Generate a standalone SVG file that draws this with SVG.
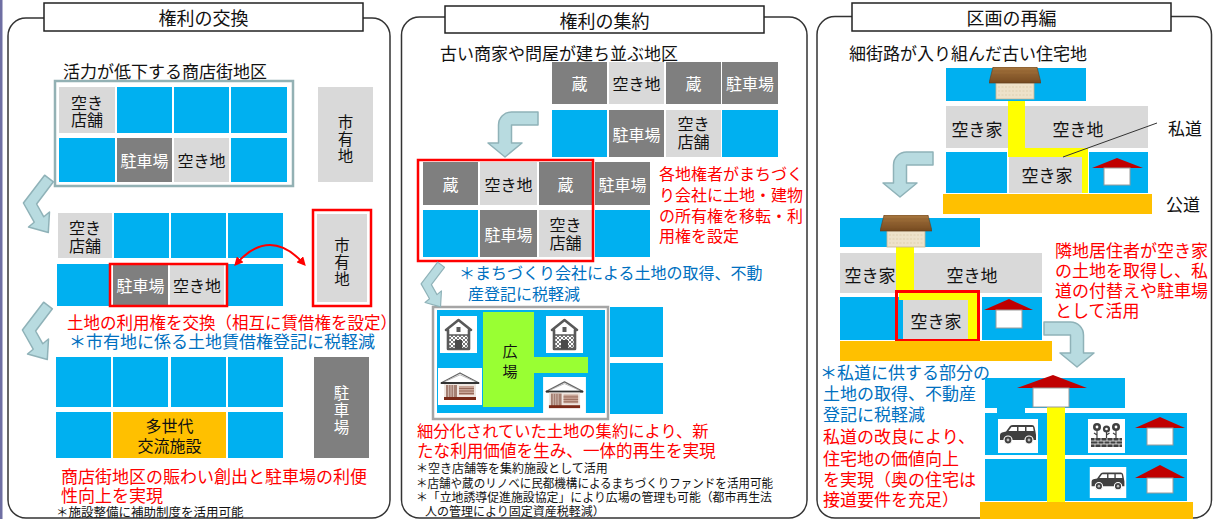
<svg xmlns="http://www.w3.org/2000/svg" width="1213" height="519" viewBox="0 0 1213 519">
<style>
text{font-family:"Noto Sans CJK JP","Noto Sans",sans-serif;dominant-baseline:central;fill:#111}
.title{font-size:18px;text-anchor:middle}
.hd{font-size:17px}
.c{font-size:16px;text-anchor:middle}
.v{font-size:15.5px;text-anchor:middle}
.c3{font-size:17px;text-anchor:middle}
.w{fill:#fff}
.red{fill:#ff0000}
.blue{fill:#0070c0}
.note{font-size:12px}
.blu{fill:#00b0f0}
.lg{fill:#d9d9d9}
.dg{fill:#7f7f7f}
.org{fill:#ffc000}
.yel{fill:#ffff00}
.frame{fill:none;stroke:#333;stroke-width:1.5}
.tbox{fill:#fff;stroke:#222;stroke-width:1.5}
.redbox{fill:none;stroke:#ff0000;stroke-width:2.5}
.arr{fill:#b8dbe0;stroke:#8fb2b8;stroke-width:1.5;stroke-linejoin:round}
.roof{fill:#c00000}
.hbox{fill:#fff;stroke:#9a9a9a;stroke-width:1}
</style>
<defs>
  <pattern id="lat" width="4" height="4" patternUnits="userSpaceOnUse">
    <rect width="4" height="4" fill="#fff"/>
    <path d="M0,0L4,4M4,0L0,4" stroke="#6a6a6a" stroke-width="0.9"/>
  </pattern>
  <linearGradient id="wood" x1="0" y1="0" x2="0" y2="1">
    <stop offset="0" stop-color="#a8773f"/>
    <stop offset="1" stop-color="#74491f"/>
  </linearGradient>
  <marker id="rh" viewBox="0 0 10 10" refX="7" refY="5" markerWidth="4.5" markerHeight="4.5" orient="auto-start-reverse">
    <path d="M0,0L10,5L0,10Z" fill="#ff0000"/>
  </marker>
  <!-- curved chevron arrow -->
  <path id="chevP" class="arr" d="M22.6,0.2L1.4,28L12.2,47.2L6.5,52L26.3,57.5L27.5,37L21.8,41.8L14.6,29L31.4,6.8Z"/>
  <!-- bent arrow, tip at origin pointing down -->
  <path id="bentP" class="arr" d="M33,-45L6.5,-45A13,13 0 0 0 -6.5,-32L-6.5,-14L-17,-14L0,0L17,-14L6.5,-14L6.5,-32L33,-32Z"/>
  <!-- storehouse icon -->
  <symbol id="kura" viewBox="0 0 37 37">
    <rect width="37" height="37" fill="#fff"/>
    <rect x="9" y="19" width="19" height="14" fill="url(#lat)"/>
    <path d="M18.5,4L31,14L29,14L29,33L8,33L8,14L6,14Z" fill="none" stroke="#595959" stroke-width="2.6" stroke-linejoin="round"/>
    <rect x="16.5" y="11" width="4" height="5" fill="#595959"/>
    <line x1="8" y1="19" x2="29" y2="19" stroke="#595959" stroke-width="1.5"/>
    <rect x="15" y="24" width="7" height="9" fill="#4a4a4a"/>
  </symbol>
  <!-- town house icon -->
  <symbol id="machiya" viewBox="0 0 44 37">
    <rect width="44" height="37" fill="#fff"/>
    <path d="M3,15L22,5L41,15Z" fill="#fff" stroke="#666" stroke-width="1.4" stroke-linejoin="round"/>
    <path d="M7,13.5L22,6.8L37,13.5" fill="none" stroke="#aaa" stroke-width="0.8"/>
    <rect x="3" y="14" width="38" height="2" fill="#333"/>
    <rect x="6" y="16" width="32" height="15" fill="#efe6e0"/>
    <rect x="8" y="17" width="11" height="13" fill="#a47f72"/>
    <path d="M10.5,17V30M13,17V30M15.5,17V30" stroke="#dcc7be" stroke-width="0.8"/>
    <rect x="21" y="18" width="15" height="9" fill="#c9a597"/>
    <path d="M21,20.5H36M21,23H36M21,25.5H36" stroke="#8a5a4a" stroke-width="0.8"/>
    <rect x="6" y="29" width="32" height="3" fill="#7a2a18"/>
  </symbol>
  <!-- old wooden house icon -->
  <symbol id="oldhouse" viewBox="0 0 52 33">
    <rect x="7" y="16" width="38" height="16" fill="#eee2ca" stroke="#c4b492" stroke-width="0.8"/>
    <path d="M9,20H43M9,24H43M9,28H43" stroke="#d8c8a8" stroke-width="0.7" stroke-dasharray="2 1.5"/>
    <path d="M4,0L48,0L52,16L0,16Z" fill="url(#wood)" stroke="#5e3d1e" stroke-width="0.6"/>
    <path d="M3,4H49M2,8H50M1,12H51" stroke="#8a5d30" stroke-width="0.6" opacity="0.7"/>
  </symbol>
  <!-- car icon -->
  <symbol id="car" viewBox="0 0 40 34">
    <rect width="40" height="34" fill="#fff"/>
    <path d="M2,16Q2,14 4,13.5L8,12.5L12,7Q13,6 15,6L34,6Q36,6 36.5,8L37.5,13L38,16L38,21L2,21Z" fill="#404040"/>
    <path d="M13.5,8L19,8L19,12L10.5,12Z M20.5,8h6.5v4h-6.5z M28.5,8h6.5l0.7,4h-7.2z" fill="#fff"/>
    <circle cx="10" cy="21" r="4" fill="#404040" stroke="#fff" stroke-width="1.2"/>
    <circle cx="31" cy="21" r="4" fill="#404040" stroke="#fff" stroke-width="1.2"/>
    <circle cx="10" cy="21" r="1.4" fill="#bbb"/>
    <circle cx="31" cy="21" r="1.4" fill="#bbb"/>
  </symbol>
  <!-- flower bed icon -->
  <symbol id="flowers" viewBox="0 0 37 34">
    <rect width="37" height="34" fill="#fff"/>
    <rect x="3" y="19" width="31" height="9" fill="#404040"/>
    <path d="M3,22H34M3,25H34M7,19V22M13,19V22M19,19V22M25,19V22M31,19V22M10,22V25M16,22V25M22,22V25M28,22V25M7,25V28M13,25V28M19,25V28M25,25V28M31,25V28" stroke="#fff" stroke-width="0.7"/>
    <path d="M9,10V19M18.5,12V19M28,10V19M9,16L6,14M18.5,16L21.5,14M28,16L25,14" stroke="#404040" stroke-width="1.2"/>
    <g fill="#404040">
      <circle cx="9" cy="8" r="4"/><circle cx="18.5" cy="10" r="3.6"/><circle cx="28" cy="8" r="4"/>
    </g>
    <g fill="#fff">
      <circle cx="9" cy="8" r="1.4"/><circle cx="18.5" cy="10" r="1.3"/><circle cx="28" cy="8" r="1.4"/>
    </g>
  </symbol>
</defs>

<rect x="0" y="0" width="1213" height="519" fill="#fff"/>
<rect x="0" y="0" width="2.5" height="519" fill="#6f6fa3"/>

<!-- panel frames and titles -->
<g id="panel-exchange-frame">
  <rect class="frame" x="8" y="18" width="382" height="500" rx="18"/>
  <rect class="tbox" x="44" y="3" width="319" height="28"/>
  <text class="title" x="203.5" y="17">権利の交換</text>
</g>
<g id="panel-consolidation-frame">
  <rect class="frame" x="401.5" y="17" width="405.5" height="501" rx="18"/>
  <rect class="tbox" x="445" y="6" width="319" height="27"/>
  <text class="title" x="604.5" y="19.5">権利の集約</text>
</g>
<g id="panel-replot-frame">
  <rect class="frame" x="817" y="16.5" width="394.5" height="501.5" rx="18"/>
  <rect class="tbox" x="852" y="3" width="319" height="28"/>
  <text class="title" x="1011.5" y="17">区画の再編</text>
</g>

<!-- ===== Panel 1: exchange of rights ===== -->
<g id="p1-before">
  <text class="hd" x="63" y="70">活力が低下する商店街地区</text>
  <rect x="55" y="81" width="238" height="105" fill="#fff" stroke="#93b1b4" stroke-width="2.5"/>
  <rect class="lg" x="59" y="87" width="56" height="46"/>
  <rect class="blu" x="117" y="87" width="55" height="46"/>
  <rect class="blu" x="174" y="87" width="55" height="46"/>
  <rect class="blu" x="231" y="87" width="56" height="46"/>
  <rect class="blu" x="59" y="138" width="56" height="44"/>
  <rect class="dg" x="117" y="138" width="55" height="44"/>
  <rect class="lg" x="174" y="138" width="55" height="44"/>
  <rect class="blu" x="231" y="138" width="56" height="44"/>
  <text class="c"><tspan x="87" y="102">空き</tspan><tspan x="87" y="119">店舗</tspan></text>
  <text class="c w" x="144.5" y="160">駐車場</text>
  <text class="c" x="201.5" y="160">空き地</text>
</g>
<g id="p1-city-land">
  <rect class="lg" x="318" y="87" width="55" height="95"/>
  <text class="v"><tspan x="345.5" y="121">市</tspan><tspan x="345.5" y="138">有</tspan><tspan x="345.5" y="155">地</tspan></text>
</g>
<g id="p1-exchange">
  <rect class="lg" x="58" y="213" width="54" height="45"/>
  <rect class="blu" x="114" y="213" width="55" height="45"/>
  <rect class="blu" x="171" y="213" width="55" height="45"/>
  <rect class="blu" x="228" y="213" width="55" height="45"/>
  <rect class="blu" x="57" y="264" width="54" height="42"/>
  <rect class="dg" x="113" y="264" width="55" height="42"/>
  <rect class="lg" x="170" y="264" width="54" height="42"/>
  <rect class="blu" x="228" y="264" width="55" height="42"/>
  <rect class="redbox" x="110" y="264" width="117" height="42"/>
  <text class="c"><tspan x="85" y="227">空き</tspan><tspan x="85" y="245">店舗</tspan></text>
  <text class="c w" x="140.5" y="285">駐車場</text>
  <text class="c" x="197" y="285">空き地</text>
  <rect class="lg" x="317" y="214" width="50" height="88"/>
  <rect class="redbox" x="313" y="210" width="58" height="96"/>
  <text class="v"><tspan x="342" y="244">市</tspan><tspan x="342" y="261">有</tspan><tspan x="342" y="278">地</tspan></text>
  <text style="font-size:16.5px"><tspan class="red" x="67" y="321.5">土地の利用権を交換（相互に賃借権を設定）</tspan><tspan class="blue" x="69" y="340" style="font-size:17px">＊市有地に係る土地賃借権登記に税軽減</tspan></text>
</g>
<g id="p1-after">
  <rect class="blu" x="56" y="357" width="55" height="50"/>
  <rect class="blu" x="113" y="357" width="55" height="50"/>
  <rect class="blu" x="171" y="357" width="55" height="50"/>
  <rect class="blu" x="228" y="357" width="55" height="50"/>
  <rect class="blu" x="56" y="412" width="55" height="46"/>
  <rect class="org" x="113" y="412" width="113" height="46"/>
  <rect class="blu" x="228" y="412" width="55" height="46"/>
  <text class="c"><tspan x="169.5" y="425">多世代</tspan><tspan x="169.5" y="445">交流施設</tspan></text>
  <rect class="dg" x="314" y="357" width="55" height="101"/>
  <text class="v w"><tspan x="341.5" y="392">駐</tspan><tspan x="341.5" y="409">車</tspan><tspan x="341.5" y="426">場</tspan></text>
  <text class="red" style="font-size:17px"><tspan x="61" y="475">商店街地区の賑わい創出と駐車場の利便</tspan><tspan x="61" y="494">性向上を実現</tspan><tspan x="56" y="511" style="font-size:12.5px;fill:#111">＊施設整備に補助制度を活用可能</tspan></text>
</g>

<!-- ===== Panel 2: consolidation of rights ===== -->
<g id="p2-before">
  <text class="hd" x="440" y="52.5">古い商家や問屋が建ち並ぶ地区</text>
  <rect class="dg" x="552" y="62" width="55" height="42"/>
  <rect class="lg" x="609" y="62" width="55" height="42"/>
  <rect class="dg" x="666" y="62" width="55" height="42"/>
  <rect class="dg" x="722" y="62" width="56" height="42"/>
  <rect class="blu" x="552" y="110" width="55" height="47"/>
  <rect class="dg" x="609" y="110" width="55" height="47"/>
  <rect class="lg" x="666" y="110" width="55" height="47"/>
  <rect class="blu" x="722" y="110" width="56" height="47"/>
  <text class="c w" x="579.5" y="83">蔵</text>
  <text class="c" x="636.5" y="83">空き地</text>
  <text class="c w" x="693.5" y="83">蔵</text>
  <text class="c w" x="750" y="83">駐車場</text>
  <text class="c w" x="636.5" y="133.5">駐車場</text>
  <text class="c"><tspan x="693.5" y="123">空き</tspan><tspan x="693.5" y="141">店舗</tspan></text>
</g>
<g id="p2-transfer">
  <rect class="dg" x="423" y="162" width="55" height="43"/>
  <rect class="lg" x="480" y="162" width="57" height="43"/>
  <rect class="dg" x="539" y="162" width="53" height="43"/>
  <rect class="dg" x="595" y="162" width="55" height="43"/>
  <rect class="blu" x="423" y="210" width="55" height="47"/>
  <rect class="dg" x="480" y="210" width="57" height="47"/>
  <rect class="lg" x="539" y="210" width="53" height="47"/>
  <rect class="blu" x="595" y="210" width="55" height="47"/>
  <rect class="redbox" x="418" y="160" width="175" height="101"/>
  <text class="c w" x="450.5" y="184">蔵</text>
  <text class="c" x="508.5" y="184">空き地</text>
  <text class="c w" x="565.5" y="184">蔵</text>
  <text class="c w" x="622.5" y="184">駐車場</text>
  <text class="c w" x="508.5" y="233.5">駐車場</text>
  <text class="c"><tspan x="565.5" y="224">空き</tspan><tspan x="565.5" y="242">店舗</tspan></text>
  <text class="red" style="font-size:16px"><tspan x="659" y="172.5">各地権者がまちづく</tspan><tspan x="659" y="194">り会社に土地・建物</tspan><tspan x="659" y="215">の所有権を移転・利</tspan><tspan x="659" y="234.5">用権を設定</tspan></text>
  <text class="blue" style="font-size:16px"><tspan x="459" y="271.5">＊まちづくり会社による土地の取得、不動</tspan><tspan x="468" y="292.5">産登記に税軽減</tspan></text>
</g>
<g id="p2-after">
  <rect x="433" y="307" width="175" height="112" fill="#fff" stroke="#a5a5a5" stroke-width="2.5"/>
  <rect class="blu" x="437" y="310" width="168" height="103"/>
  <path d="M483,312H534V357H588V373H534V407H483Z" fill="#99ff33"/>
  <text style="font-size:15px;text-anchor:middle"><tspan x="510" y="350">広</tspan><tspan x="510" y="370">場</tspan></text>
  <use href="#kura" x="440" y="316" width="37" height="37"/>
  <use href="#kura" x="546" y="316" width="37" height="37"/>
  <use href="#machiya" x="438" y="368" width="44" height="37"/>
  <use href="#machiya" x="543" y="377" width="43" height="36"/>
  <rect class="blu" x="610" y="307" width="53" height="50"/>
  <rect class="blu" x="610" y="363" width="53" height="51"/>
  <text class="red"><tspan x="417" y="430" style="font-size:16.3px">細分化されていた土地の集約により、新</tspan><tspan x="417" y="450" style="font-size:16.6px">たな利用価値を生み、一体的再生を実現</tspan></text>
  <text class="note"><tspan x="416" y="467">＊空き店舗等を集約施設として活用</tspan><tspan x="416" y="482" textLength="357" lengthAdjust="spacingAndGlyphs">＊店舗や蔵のリノベに民都機構によるまちづくりファンドを活用可能</tspan><tspan x="416" y="496" textLength="356" lengthAdjust="spacingAndGlyphs">＊「立地誘導促進施設協定」により広場の管理も可能（都市再生法</tspan><tspan x="425" y="510">人の管理により固定資産税軽減）</tspan></text>
</g>

<!-- ===== Panel 3: replotting ===== -->
<g id="p3-before">
  <text class="hd" x="849" y="52.5">細街路が入り組んだ古い住宅地</text>
  <rect class="blu" x="946" y="68" width="140" height="33"/>
  <rect class="lg" x="946" y="106" width="202" height="42"/>
  <rect class="blu" x="946" y="152" width="61" height="41"/>
  <rect class="lg" x="1009" y="157" width="73" height="36"/>
  <rect class="blu" x="1089" y="152" width="59" height="41"/>
  <path class="yel" d="M1008,101H1025V148H1088V193H1082V157H1008Z"/>
  <rect class="org" x="943" y="194" width="209" height="20"/>
  <use href="#oldhouse" x="989" y="67" width="52" height="33"/>
  <polygon class="roof" points="1092,168 1117,158 1143,168"/>
  <rect class="hbox" x="1104" y="168" width="26" height="17"/>
  <line x1="1157" y1="123" x2="1063" y2="157" stroke="#333" stroke-width="1"/>
  <text class="c3" x="977" y="128">空き家</text>
  <text class="c3" x="1078" y="128">空き地</text>
  <text class="c3" x="1047" y="174">空き家</text>
  <text class="hd" x="1168" y="127">私道</text>
  <text class="hd" x="1166" y="203">公道</text>
</g>
<g id="p3-acquire">
  <rect class="blu" x="840" y="218" width="140" height="29"/>
  <rect class="lg" x="840" y="253" width="202" height="40"/>
  <rect class="yel" x="896" y="247" width="18" height="46"/>
  <use href="#oldhouse" x="880" y="215" width="52" height="33"/>
  <rect class="blu" x="840" y="297" width="55" height="43"/>
  <rect class="blu" x="897" y="297" width="80" height="43"/>
  <rect class="lg" x="903" y="300" width="65" height="40"/>
  <path class="yel" d="M899,293H977V340H968V300H899Z"/>
  <rect class="blu" x="982" y="297" width="60" height="43"/>
  <rect x="896.5" y="291.5" width="82" height="49" fill="none" stroke="#ff0000" stroke-width="3"/>
  <polygon class="roof" points="984,310 1009,299 1033,310"/>
  <rect class="hbox" x="996" y="310" width="26" height="18"/>
  <rect class="org" x="840" y="341" width="212" height="20"/>
  <text class="c3" x="870" y="274">空き家</text>
  <text class="c3" x="972" y="274">空き地</text>
  <text class="c3" x="936" y="320">空き家</text>
  <text class="red" style="font-size:17px"><tspan x="1055" y="249">隣地居住者が空き家</tspan><tspan x="1055" y="269">の土地を取得し、私</tspan><tspan x="1055" y="289">道の付替えや駐車場</tspan><tspan x="1055" y="309">として活用</tspan></text>
  <text style="font-size:17px"><tspan class="blue" x="820" y="371">＊私道に供する部分の</tspan><tspan class="blue" x="823" y="391.5">土地の取得、不動産</tspan><tspan class="blue" x="823" y="413">登記に税軽減</tspan><tspan class="red" x="823" y="435">私道の改良により、</tspan><tspan class="red" x="823" y="456.5">住宅地の価値向上</tspan><tspan class="red" x="823" y="477.5">を実現（奥の住宅は</tspan><tspan class="red" x="823" y="497.5">接道要件を充足）</tspan></text>
</g>
<g id="p3-after">
  <rect class="blu" x="985" y="378" width="140" height="30"/>
  <rect class="blu" x="997" y="406" width="28" height="8"/>
  <rect class="blu" x="985" y="413" width="202" height="42"/>
  <rect class="blu" x="985" y="459" width="202" height="42"/>
  <rect class="yel" x="1047" y="407" width="18" height="95"/>
  <polygon class="roof" points="1017,388 1053,375 1087,388"/>
  <rect class="hbox" x="1033" y="388" width="36" height="19"/>
  <use href="#car" x="998" y="419" width="40" height="34"/>
  <use href="#flowers" x="1088" y="419" width="37" height="34"/>
  <polygon class="roof" points="1135,428 1160,417 1185,428"/>
  <rect class="hbox" x="1147" y="428" width="26" height="17"/>
  <use href="#car" x="1088" y="467" width="40" height="31" preserveAspectRatio="none"/>
  <polygon class="roof" points="1135,478 1160,465 1185,478"/>
  <rect class="hbox" x="1147" y="478" width="26" height="15"/>
  <rect class="org" x="980" y="502" width="213" height="17"/>
</g>

<!-- connectors -->
<g id="connectors">
  <use href="#chevP" transform="translate(22,175)"/>
  <use href="#chevP" transform="translate(21,302)"/>
  <use href="#chevP" transform="translate(420,262) scale(0.78)"/>
  <use href="#bentP" transform="translate(505,157)"/>
  <use href="#bentP" transform="translate(900,197)"/>
  <use href="#bentP" transform="translate(1077,367) scale(-1,1)"/>
  <path d="M236,264Q270,226 304,264" fill="none" stroke="#ff0000" stroke-width="2" marker-start="url(#rh)" marker-end="url(#rh)"/>
</g>
</svg>
